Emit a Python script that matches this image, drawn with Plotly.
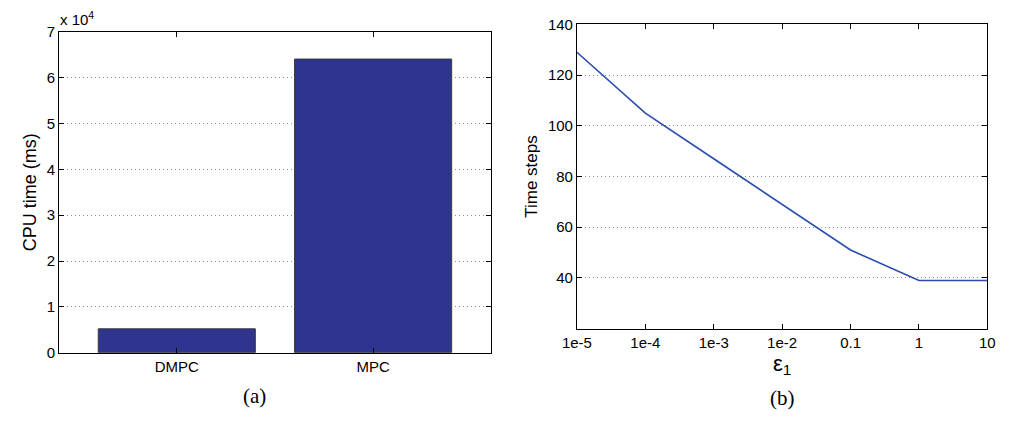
import plotly.graph_objects as go

# CPU time per controller (ms)
controllers = ["DMPC", "MPC"]
cpu_time_ms = [5200, 64100]

# Time steps against the tolerance epsilon_1
eps1 = [1e-5, 1e-4, 1e-3, 1e-2, 0.1, 1, 10]
time_steps = [129, 105, 87, 69, 51, 39, 39]
eps_tick_labels = ["1e-5", "1e-4", "1e-3", "1e-2", "0.1", "1", "10"]

cpu_ticks = [0, 10000, 20000, 30000, 40000, 50000, 60000, 70000]
cpu_tick_labels = ["0", "1", "2", "3", "4", "5", "6", "7"]
step_ticks = [40, 60, 80, 100, 120, 140]

W, H = 1011, 424
SANS = "Arial"
SERIF = "Liberation Serif"

fig = go.Figure()

fig.add_trace(go.Bar(
    x=controllers, y=cpu_time_ms, width=0.8,
    marker=dict(color="#2e3490", line=dict(color="#3a3a3a", width=1)),
    xaxis="x", yaxis="y", showlegend=False,
))

fig.add_trace(go.Scatter(
    x=eps1, y=time_steps, mode="lines",
    line=dict(color="#2a4cac", width=1.6),
    xaxis="x2", yaxis="y2", showlegend=False,
))

axis_common = dict(
    showline=True, linecolor="black", linewidth=1, mirror="ticks",
    ticks="inside", ticklen=5, tickcolor="black", zeroline=False,
    tickfont=dict(family=SANS, size=15, color="black"),
)
grid_style = dict(showgrid=True, gridcolor="#8c8c8c", griddash="1px,3px", gridwidth=1)

fig.update_layout(
    width=W, height=H,
    margin=dict(l=0, r=0, t=0, b=0),
    paper_bgcolor="white", plot_bgcolor="white",
    xaxis=dict(
        domain=[45 / W, 487 / W], anchor="y",
        range=[-0.6, 1.6], showgrid=False, **axis_common,
    ),
    yaxis=dict(
        domain=[(H - 358) / H, (H - 24) / H], anchor="x",
        range=[0, 70000], tickmode="array",
        tickvals=cpu_ticks, ticktext=cpu_tick_labels,
        title=dict(text="CPU time (ms)", font=dict(family=SANS, size=18, color="black"), standoff=5),
        **grid_style, **axis_common,
    ),
    xaxis2=dict(
        domain=[575 / W, 995 / W], anchor="y2", type="log",
        range=[-5, 1], tickmode="array",
        tickvals=eps1, ticktext=eps_tick_labels, showgrid=False,
        title=dict(text="ε<sub>1</sub>", font=dict(family=SANS, size=22, color="black"), standoff=0),
        **axis_common,
    ),
    yaxis2=dict(
        domain=[(H - 333) / H, (H - 16) / H], anchor="x2",
        range=[20, 140], tickmode="array", tickvals=step_ticks,
        title=dict(text="Time steps", font=dict(family=SANS, size=17, color="black"), standoff=5),
        **grid_style, **axis_common,
    ),
    annotations=[
        dict(text="x 10<sup>4</sup>", x=44 / W, y=(H - 22) / H, xref="paper", yref="paper",
             xanchor="left", yanchor="bottom", showarrow=False,
             font=dict(family=SANS, size=15, color="black")),
        dict(text="(a)", x=245 / W, y=(H - 403) / H, xref="paper", yref="paper",
             xanchor="center", yanchor="middle", showarrow=False,
             font=dict(family=SERIF, size=21, color="black")),
        dict(text="(b)", x=785 / W, y=(H - 405) / H, xref="paper", yref="paper",
             xanchor="center", yanchor="middle", showarrow=False,
             font=dict(family=SERIF, size=21, color="black")),
    ],
)

fig.write_html("out.html")
